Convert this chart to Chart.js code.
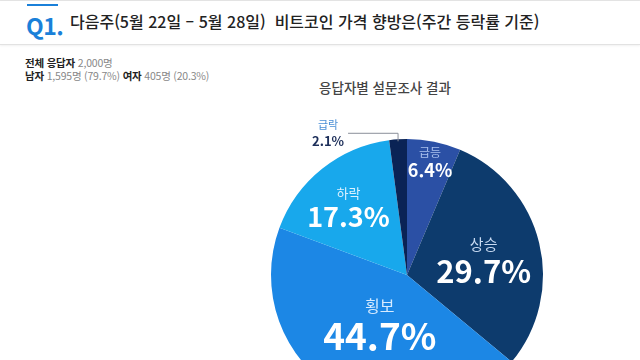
<!DOCTYPE html>
<html lang="ko">
<head>
<meta charset="utf-8">
<script src="https://cdnjs.cloudflare.com/ajax/libs/Chart.js/4.4.1/chart.umd.min.js"></script>
<style>
  html,body{margin:0;padding:0;width:640px;height:360px;overflow:hidden;background:#fff;
    font-family:"Noto Sans CJK KR","Noto Sans",sans-serif;}
  .top{position:absolute;left:0;top:0;width:640px;height:1px;background:#e4e4e4;}
  .head{position:absolute;left:0;top:1px;width:640px;height:43px;border-bottom:1px solid #e2e2e2;
    box-shadow:0 1px 2px rgba(0,0,0,.06);}
  .qbar{position:absolute;left:27px;top:3px;width:31px;height:2px;background:#1a80d9;}
  .q{position:absolute;left:26px;top:7px;font:700 23px "Noto Sans CJK KR",sans-serif;color:#1a80d9;letter-spacing:-0.5px;}
  .ttl{position:absolute;left:70px;top:8px;font:500 16px "Noto Sans CJK KR",sans-serif;color:#222;white-space:nowrap;}
  .info{position:absolute;left:25px;top:56px;font:400 10.5px/13px "Noto Sans CJK KR",sans-serif;color:#888;letter-spacing:-0.2px;}
  .info b{color:#222;font-weight:700;}
  .ctitle{position:absolute;left:285px;top:77px;width:200px;text-align:center;
    font:500 13.5px "Noto Sans CJK KR",sans-serif;color:#444;}
  #wrap{position:absolute;left:207px;top:75px;width:400px;height:400px;}
</style>
</head>
<body>
<div class="top"></div>
<div class="head">
  <div class="qbar"></div>
  <div class="q">Q1.</div>
  <div class="ttl">다음주(5월 22일 – 5월 28일)&nbsp; 비트코인 가격 향방은(주간 등락률 기준)</div>
</div>
<div class="info">
  <b>전체 응답자</b> 2,000명<br>
  <b>남자</b> 1,595명 (79.7%) <b>여자</b> 405명 (20.3%)
</div>
<div class="ctitle">응답자별 설문조사 결과</div>
<div id="wrap"><canvas id="pie"></canvas></div>
<script>
// survey answers, clockwise from 12 o'clock
const LABELS = ['급등', '상승', '횡보', '하락', '급락'];
const VALUES = [6.4, 29.7, 44.7, 17.3, 2.1];

const COLORS = ['#2b50a5', '#0d3b6d', '#1c87e5', '#18a8ec', '#0a2355'];
// label placement: fraction of radius, extra drop, name/value font sizes, name colour
const LBL_R   = [0.85, 0.58, 0.40, 0.69, null];
const LBL_DY  = [4, 7, 5, 8, 0];
const NAME_PX = [12, 15, 16, 13, 11];
const VAL_PX  = [18, 31, 37, 27, 13];
const NAME_C  = ['#a9c0ee', '#c9dbf2', '#d6ebff', '#d9f1ff', '#4a8fd6'];

const FONT = '"Noto Sans CJK KR", "Noto Sans", sans-serif';

const sliceLabels = {
  id: 'sliceLabels',
  afterDatasetsDraw(chart){
    const ctx = chart.ctx;
    const arcs = chart.getDatasetMeta(0).data;
    ctx.save();
    ctx.textAlign = 'center';
    ctx.textBaseline = 'middle';
    arcs.forEach((arc, i) => {
      const {x, y, startAngle, endAngle, outerRadius} = arc.getProps(['x','y','startAngle','endAngle','outerRadius'], true);
      const mid = (startAngle + endAngle) / 2;
      const txt = VALUES[i].toFixed(1) + '%';
      if (LBL_R[i] == null) {
        // small slice: callout above the pie
        const px = x + Math.cos(mid) * outerRadius;
        const py = y + Math.sin(mid) * outerRadius;
        const ly = py - 6;
        ctx.strokeStyle = '#8a8f99';
        ctx.lineWidth = 1;
        ctx.beginPath();
        ctx.moveTo(px - 50, ly); ctx.lineTo(px, ly); ctx.lineTo(px, py + 2);
        ctx.stroke();
        ctx.fillStyle = NAME_C[i];
        ctx.font = `400 ${NAME_PX[i]}px ${FONT}`;
        ctx.fillText(LABELS[i], px - 70, ly - 8);
        ctx.fillStyle = '#1d2f5a';
        ctx.font = `700 ${VAL_PX[i]}px ${FONT}`;
        ctx.fillText(txt, px - 70, ly + 8);
        return;
      }
      const r = outerRadius * LBL_R[i];
      const cx = x + Math.cos(mid) * r;
      const vy = y + Math.sin(mid) * r + VAL_PX[i] * 0.25 + LBL_DY[i];
      ctx.fillStyle = '#fff';
      ctx.font = `700 ${VAL_PX[i]}px ${FONT}`;
      ctx.fillText(txt, cx, vy);
      ctx.fillStyle = NAME_C[i];
      ctx.font = `400 ${NAME_PX[i]}px ${FONT}`;
      ctx.fillText(LABELS[i], cx, vy - VAL_PX[i] * 0.5 - NAME_PX[i] * 0.75);
    });
    ctx.restore();
  }
};

new Chart(document.getElementById('pie'), {
  type: 'pie',
  data: { labels: LABELS, datasets: [{ data: VALUES, backgroundColor: COLORS, borderWidth: 0 }] },
  options: {
    responsive: true, maintainAspectRatio: false, animation: false,
    layout: { padding: 64 },
    plugins: { legend: { display: false }, tooltip: { enabled: false } }
  },
  plugins: [sliceLabels]
});
</script>
</body>
</html>
